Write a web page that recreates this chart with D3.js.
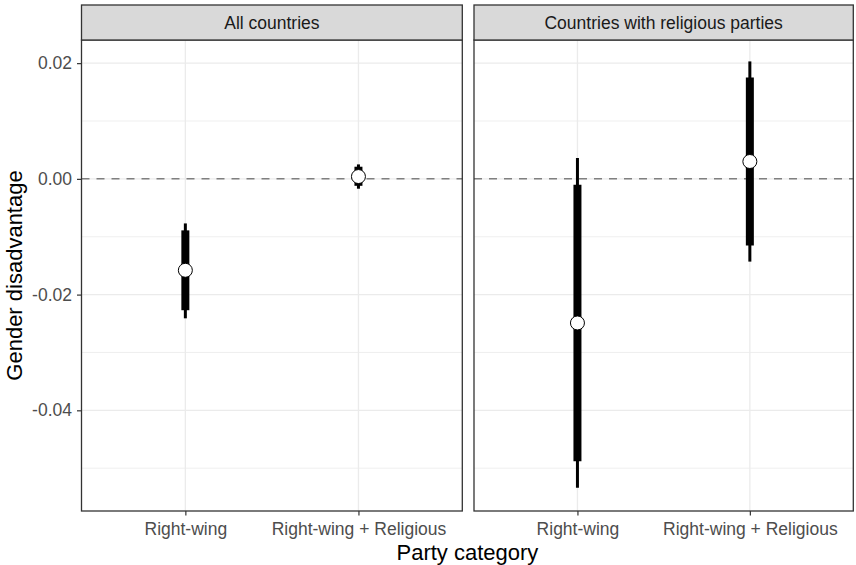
<!DOCTYPE html>
<html lang="en">
  <head>
    <meta charset="UTF-8" />
    <title>Gender disadvantage by party category</title>
    <script src="https://d3js.org/d3.v7.min.js"></script>
    <style>
      body {
        margin: 0;
        background: #fff;
        font-family: "Liberation Sans", Arial, sans-serif;
      }
      svg {
        display: block;
      }
      .grid-major {
        stroke: #ebebeb;
        stroke-width: 1.3px;
      }
      .grid-minor {
        stroke: #ebebeb;
        stroke-width: 0.8px;
      }
      .axis text {
        fill: #4d4d4d;
        font-size: 17.5px;
        font-family: "Liberation Sans", Arial, sans-serif;
      }
      .axis line {
        stroke: #333;
        stroke-width: 1.2px;
      }
      .axis .domain {
        display: none;
      }
      .title {
        fill: #000;
        font-size: 22px;
      }
      .strip-text {
        fill: #1a1a1a;
        font-size: 17.5px;
      }
    </style>
  </head>
  <body>
    <svg id="chart" width="856" height="565"></svg>

    <script>
      // ---------------------------------------------------------------
      // Data
      // ---------------------------------------------------------------
      const facets = ["All countries", "Countries with religious parties"];
      const categories = ["Right-wing", "Right-wing + Religious"];

      // one row per facet, one value per category
      const estimates = [
        [-0.0158, 0.0004],
        [-0.0249, 0.003],
      ];
      const innerLow = [
        [-0.0227, -0.0012],
        [-0.0488, -0.0115],
      ];
      const innerHigh = [
        [-0.0089, 0.0021],
        [-0.001, 0.0175],
      ];
      const outerLow = [
        [-0.0241, -0.0017],
        [-0.0534, -0.0143],
      ];
      const outerHigh = [
        [-0.0077, 0.0025],
        [0.0036, 0.0203],
      ];

      const yMajorTicks = [-0.04, -0.02, 0, 0.02];
      const yMinorTicks = [-0.05, -0.03, -0.01, 0.01];
      const yLimits = [-0.0574, 0.024];

      // ---------------------------------------------------------------
      // Layout
      // ---------------------------------------------------------------
      const svg = d3.select("#chart");
      const panelTop = 40;
      const panelBottom = 511;
      const stripTop = 5;
      const panels = [
        { x0: 81.5, x1: 462.3 },
        { x0: 474, x1: 853.3 },
      ];

      const y = d3.scaleLinear().domain(yLimits).range([panelBottom, panelTop]);

      const rows = [];
      facets.forEach((f, i) => {
        categories.forEach((c, j) => {
          rows.push({
            facet: i,
            category: c,
            est: estimates[i][j],
            lo1: innerLow[i][j],
            hi1: innerHigh[i][j],
            lo2: outerLow[i][j],
            hi2: outerHigh[i][j],
          });
        });
      });

      panels.forEach((p, i) => {
        const x = d3
          .scalePoint()
          .domain(categories)
          .range([p.x0, p.x1])
          .padding(0.6);

        const g = svg.append("g");

        // gridlines
        g.selectAll(".grid-minor")
          .data(yMinorTicks)
          .join("line")
          .attr("class", "grid-minor")
          .attr("x1", p.x0)
          .attr("x2", p.x1)
          .attr("y1", (d) => y(d))
          .attr("y2", (d) => y(d));

        g.selectAll(".grid-major.h")
          .data(yMajorTicks)
          .join("line")
          .attr("class", "grid-major h")
          .attr("x1", p.x0)
          .attr("x2", p.x1)
          .attr("y1", (d) => y(d))
          .attr("y2", (d) => y(d));

        g.selectAll(".grid-major.v")
          .data(categories)
          .join("line")
          .attr("class", "grid-major v")
          .attr("x1", (d) => x(d))
          .attr("x2", (d) => x(d))
          .attr("y1", panelTop)
          .attr("y2", panelBottom);

        // zero reference line
        g.append("line")
          .attr("x1", p.x0)
          .attr("x2", p.x1)
          .attr("y1", y(0))
          .attr("y2", y(0))
          .attr("stroke", "#808080")
          .attr("stroke-width", 1.5)
          .attr("stroke-dasharray", "8,7");

        const data = rows.filter((d) => d.facet === i);

        // outer interval (thin)
        g.selectAll(".outer")
          .data(data)
          .join("line")
          .attr("class", "outer")
          .attr("x1", (d) => x(d.category))
          .attr("x2", (d) => x(d.category))
          .attr("y1", (d) => y(d.lo2))
          .attr("y2", (d) => y(d.hi2))
          .attr("stroke", "#000")
          .attr("stroke-width", 3);

        // inner interval (thick)
        g.selectAll(".inner")
          .data(data)
          .join("line")
          .attr("class", "inner")
          .attr("x1", (d) => x(d.category))
          .attr("x2", (d) => x(d.category))
          .attr("y1", (d) => y(d.lo1))
          .attr("y2", (d) => y(d.hi1))
          .attr("stroke", "#000")
          .attr("stroke-width", 8);

        // point estimates
        g.selectAll(".point")
          .data(data)
          .join("circle")
          .attr("class", "point")
          .attr("cx", (d) => x(d.category))
          .attr("cy", (d) => y(d.est))
          .attr("r", 7)
          .attr("fill", "#fff")
          .attr("stroke", "#000")
          .attr("stroke-width", 1);

        // panel border
        g.append("rect")
          .attr("x", p.x0)
          .attr("y", panelTop)
          .attr("width", p.x1 - p.x0)
          .attr("height", panelBottom - panelTop)
          .attr("fill", "none")
          .attr("stroke", "#333")
          .attr("stroke-width", 1.3);

        // strip
        g.append("rect")
          .attr("x", p.x0)
          .attr("y", stripTop)
          .attr("width", p.x1 - p.x0)
          .attr("height", panelTop - stripTop)
          .attr("fill", "#d9d9d9")
          .attr("stroke", "#333")
          .attr("stroke-width", 1.3);

        g.append("text")
          .attr("class", "strip-text")
          .attr("x", (p.x0 + p.x1) / 2)
          .attr("y", 29)
          .attr("text-anchor", "middle")
          .text(facets[i]);

        // x axis
        g.append("g")
          .attr("class", "axis")
          .attr("transform", `translate(0,${panelBottom})`)
          .call(d3.axisBottom(x).tickSize(4.5).tickPadding(7));
      });

      // y axis (left panel only)
      svg
        .append("g")
        .attr("class", "axis")
        .attr("transform", `translate(${panels[0].x0},0)`)
        .call(
          d3
            .axisLeft(y)
            .tickValues(yMajorTicks)
            .tickFormat((d) => d.toFixed(2))
            .tickSize(4.5)
            .tickPadding(5)
        );

      // axis titles
      svg
        .append("text")
        .attr("class", "title")
        .attr("x", (panels[0].x0 + panels[1].x1) / 2)
        .attr("y", 560)
        .attr("text-anchor", "middle")
        .text("Party category");

      svg
        .append("text")
        .attr("class", "title")
        .attr("transform", `translate(22,${(panelTop + panelBottom) / 2}) rotate(-90)`)
        .attr("text-anchor", "middle")
        .text("Gender disadvantage");
    </script>
  </body>
</html>
